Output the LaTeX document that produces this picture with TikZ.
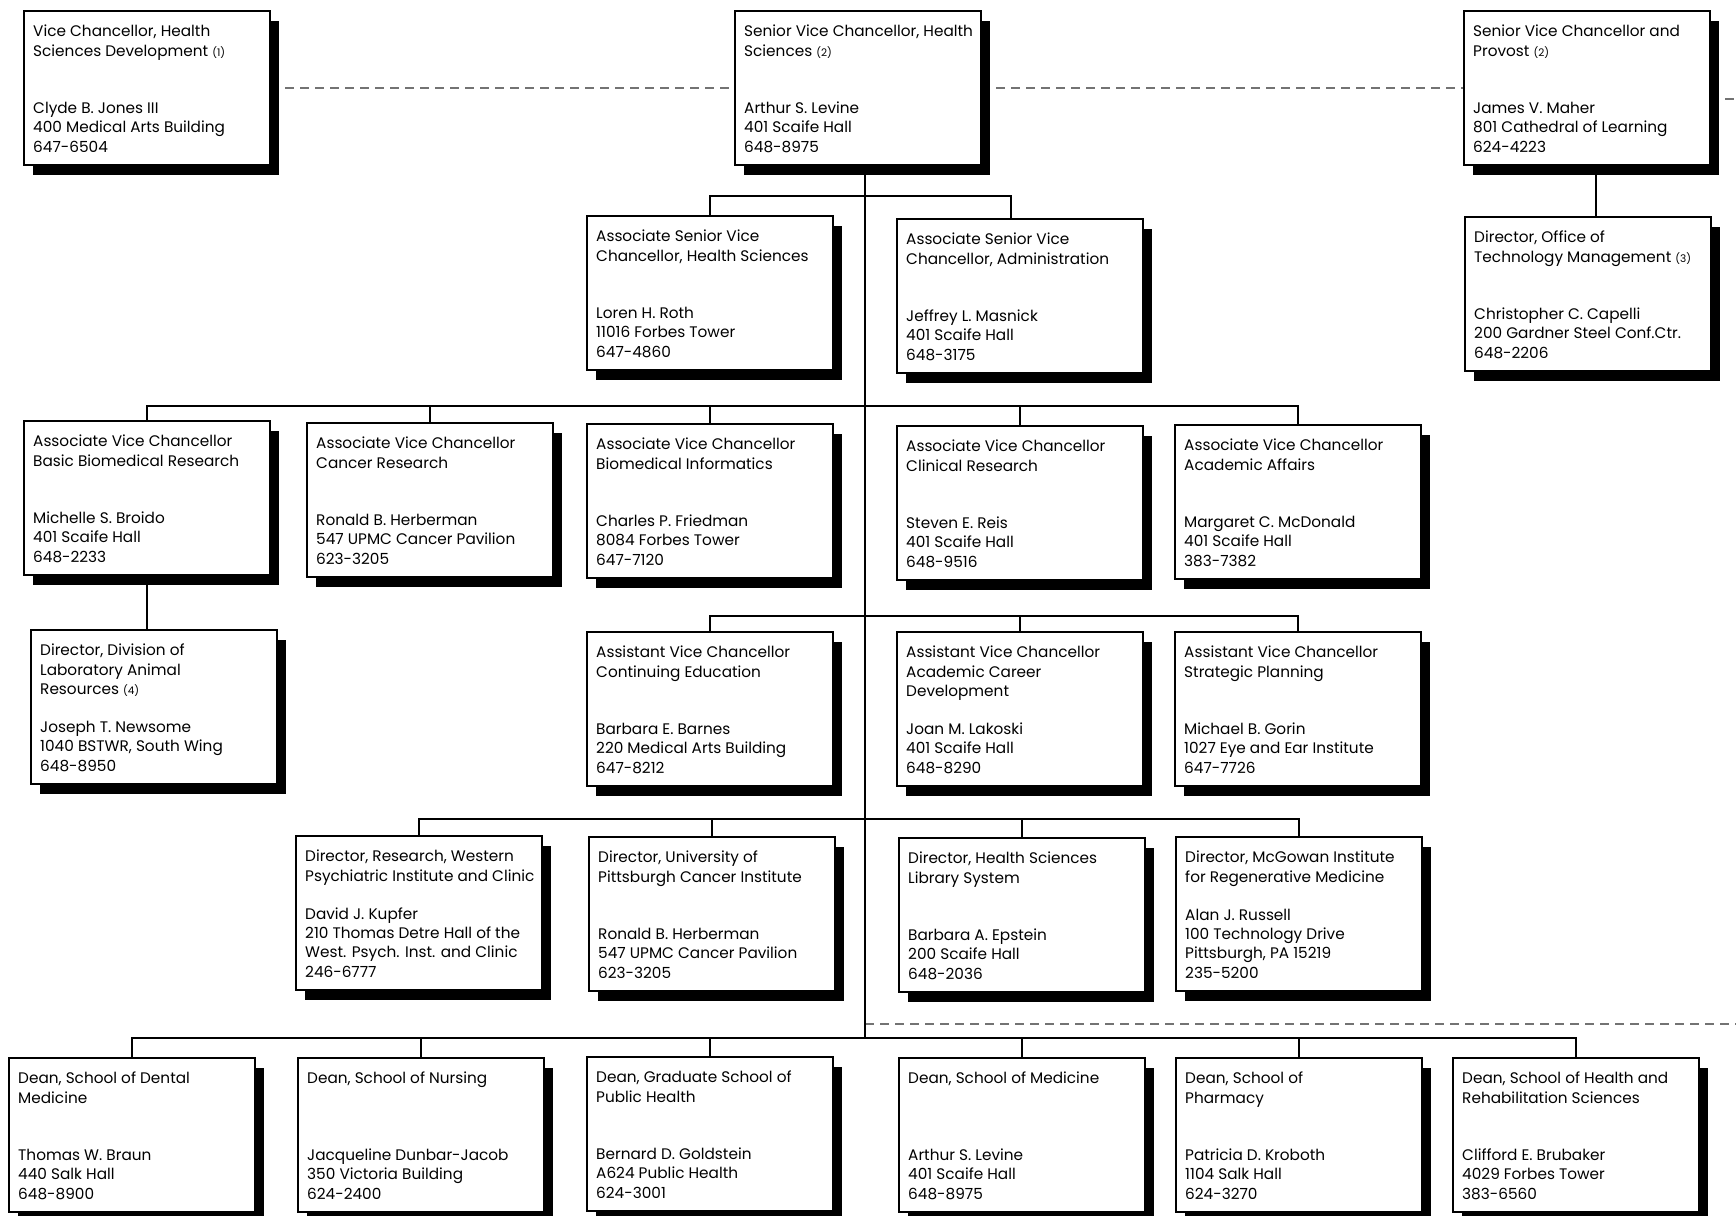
\documentclass[tikz,border=0pt]{standalone}
\usepackage{fontspec}
\setmainfont{Poppins}
\usetikzlibrary{shadows,backgrounds,calc}
\newcommand\fnote[1]{{\fontsize{10.5}{12}\selectfont(#1)}}
\newcommand\bl{\mbox{}}
\tikzset{
  orgbox/.style={draw=black, line width=2pt, fill=white, anchor=north west,
    minimum width=246pt, minimum height=154pt, inner sep=0pt, outer sep=0pt,
    drop shadow={shadow xshift=9pt, shadow yshift=-10pt, fill=black, opacity=1}},
  orgtext/.style={anchor=north west, inner sep=0pt, align=left,
    font=\fontsize{15.3}{19.2}\selectfont, execute at begin node=\strut},
  link/.style={line width=1.8pt, black},
  dashlink/.style={line width=1.6pt, black!55, dash pattern=on 9pt off 6pt},
}
\newcommand\orgbox[4]{%
  \node[orgbox] (#1) at (#2,#3) {};
  \node[orgtext] (#1-t) at ([xshift=9pt,yshift=-14pt]#1.north west) {#4};
}
\begin{document}
\begin{tikzpicture}[x=1pt,y=-1pt]
\useasboundingbox (0,0) rectangle (1736,1215);
% row 0
\orgbox{A}{24}{11}{Vice Chancellor, Health\\Sciences Development \fnote{1}\\\bl\\\bl\\Clyde B. Jones III\\400 Medical Arts Building\\647-6504}
\orgbox{B}{735}{11}{Senior Vice Chancellor, Health\\Sciences \fnote{2}\\\bl\\\bl\\Arthur S. Levine\\401 Scaife Hall\\648-8975}
\orgbox{C}{1464}{11}{Senior Vice Chancellor and\\Provost \fnote{2}\\\bl\\\bl\\James V. Maher\\801 Cathedral of Learning\\624-4223}
% row 1
\orgbox{D}{587}{216}{Associate Senior Vice\\Chancellor, Health Sciences\\\bl\\\bl\\Loren H. Roth\\11016 Forbes Tower\\647-4860}
\orgbox{E}{897}{219}{Associate Senior Vice\\Chancellor, Administration\\\bl\\\bl\\Jeffrey L. Masnick\\401 Scaife Hall\\648-3175}
\orgbox{F}{1465}{217}{Director, Office of\\Technology Management \fnote{3}\\\bl\\\bl\\Christopher C. Capelli\\200 Gardner Steel Conf.Ctr.\\648-2206}
% row 2
\orgbox{G}{24}{421}{Associate Vice Chancellor\\Basic Biomedical Research\\\bl\\\bl\\Michelle S. Broido\\401 Scaife Hall\\648-2233}
\orgbox{H}{307}{423}{Associate Vice Chancellor\\Cancer Research\\\bl\\\bl\\Ronald B. Herberman\\547 UPMC Cancer Pavilion\\623-3205}
\orgbox{I}{587}{424}{Associate Vice Chancellor\\Biomedical Informatics\\\bl\\\bl\\Charles P. Friedman\\8084 Forbes Tower\\647-7120}
\orgbox{J}{897}{426}{Associate Vice Chancellor\\Clinical Research\\\bl\\\bl\\Steven E. Reis\\401 Scaife Hall\\648-9516}
\orgbox{K}{1175}{425}{Associate Vice Chancellor\\Academic Affairs\\\bl\\\bl\\Margaret C. McDonald\\401 Scaife Hall\\383-7382}
% row 3
\orgbox{L}{31}{630}{Director, Division of\\Laboratory Animal\\Resources \fnote{4}\\\bl\\Joseph T. Newsome\\1040 BSTWR, South Wing\\648-8950}
\orgbox{M}{587}{632}{Assistant Vice Chancellor\\Continuing Education\\\bl\\\bl\\Barbara E. Barnes\\220 Medical Arts Building\\647-8212}
\orgbox{N}{897}{632}{Assistant Vice Chancellor\\Academic Career\\Development\\\bl\\Joan M. Lakoski\\401 Scaife Hall\\648-8290}
\orgbox{O}{1175}{632}{Assistant Vice Chancellor\\Strategic Planning\\\bl\\\bl\\Michael B. Gorin\\1027 Eye and Ear Institute\\647-7726}
% row 4
\orgbox{P}{296}{836}{Director, Research, Western\\Psychiatric Institute and Clinic\\\bl\\David J. Kupfer\\210 Thomas Detre Hall of the\\West. Psych. Inst. and Clinic\\246-6777}
\orgbox{Q}{589}{837}{Director, University of\\Pittsburgh Cancer Institute\\\bl\\\bl\\Ronald B. Herberman\\547 UPMC Cancer Pavilion\\623-3205}
\orgbox{R}{899}{838}{Director, Health Sciences\\Library System\\\bl\\\bl\\Barbara A. Epstein\\200 Scaife Hall\\648-2036}
\orgbox{S}{1176}{837}{Director, McGowan Institute\\for Regenerative Medicine\\\bl\\Alan J. Russell\\100 Technology Drive\\Pittsburgh, PA 15219\\235-5200}
% row 5
\orgbox{T}{9}{1058}{Dean, School of Dental\\Medicine\\\bl\\\bl\\Thomas W. Braun\\440 Salk Hall\\648-8900}
\orgbox{U}{298}{1058}{Dean, School of Nursing\\\bl\\\bl\\\bl\\Jacqueline Dunbar-Jacob\\350 Victoria Building\\624-2400}
\orgbox{V}{587}{1057}{Dean, Graduate School of\\Public Health\\\bl\\\bl\\Bernard D. Goldstein\\A624 Public Health\\624-3001}
\orgbox{W}{899}{1058}{Dean, School of Medicine\\\bl\\\bl\\\bl\\Arthur S. Levine\\401 Scaife Hall\\648-8975}
\orgbox{X}{1176}{1058}{Dean, School of\\Pharmacy\\\bl\\\bl\\Patricia D. Kroboth\\1104 Salk Hall\\624-3270}
\orgbox{Y}{1453}{1058}{Dean, School of Health and\\Rehabilitation Sciences\\\bl\\\bl\\Clifford E. Brubaker\\4029 Forbes Tower\\383-6560}

\begin{pgfonlayer}{background}
\fill[white] (0,0) rectangle (1736,1215);
\coordinate (tk) at (865,0);
\coordinate (b1) at (0,196);
\coordinate (b2) at (0,406);
\coordinate (b3) at (0,616);
\coordinate (b4) at (0,819);
\coordinate (b5) at (0,1038);
\coordinate (de) at (1736,1024);
\coordinate (re) at (1736,99);
% dashed relations
\draw[dashlink] (A.east) -- (B.west);
\draw[dashlink] (B.east) -- (C.west);
\draw[dashlink] (C.east |- re) -- (re);
\draw[dashlink] (tk |- de) -- (de);
% trunk
\draw[link] (tk |- B.south) -- (tk |- b5);
% row 1
\draw[link] (D.north) -- (D.north |- b1) -- ([xshift=-9pt]E.north |- b1) -- ([xshift=-9pt]E.north);
\draw[link] ([xshift=9pt]C.south) -- ([xshift=9pt]C.south |- F.north);
% row 2
\draw[link] (G.north) -- (G.north |- b2) -- (K.north |- b2) -- (K.north);
\foreach \n in {H,I,J} \draw[link] (\n.north) -- (\n.north |- b2);
\draw[link] (G.south) -- (G.south |- L.north);
% row 3
\draw[link] (M.north) -- (M.north |- b3) -- (O.north |- b3) -- (O.north);
\draw[link] (N.north) -- (N.north |- b3);
% row 4
\draw[link] (P.north) -- (P.north |- b4) -- (S.north |- b4) -- (S.north);
\foreach \n in {Q,R} \draw[link] (\n.north) -- (\n.north |- b4);
% row 5
\draw[link] (T.north) -- (T.north |- b5) -- (Y.north |- b5) -- (Y.north);
\foreach \n in {U,V,W,X} \draw[link] (\n.north) -- (\n.north |- b5);
\end{pgfonlayer}
\end{tikzpicture}
\end{document}
